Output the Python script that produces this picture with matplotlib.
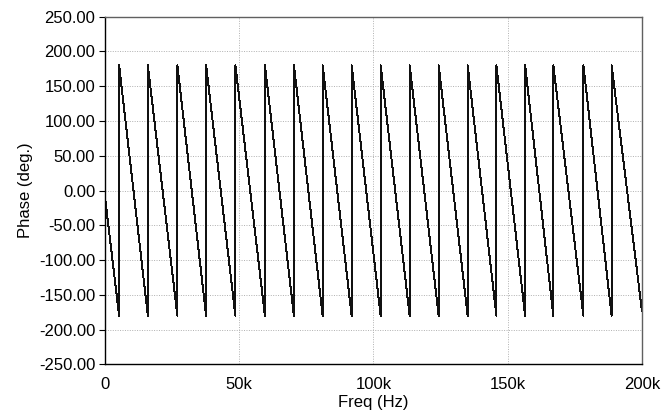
import matplotlib
matplotlib.use('Agg')

import matplotlib.pyplot as plt

# phase wraps from -180 back to +180 at these frequencies (Hz)
wrap_freq_hz = [5300, 16000, 27000, 37700, 48600, 59600, 70400, 81100, 91900,
                102700, 113500, 124300, 135100, 145800, 156500, 167000, 178200, 188700]
start_phase = -8.0      # phase at 0 Hz
end_freq_hz = 200000
end_phase = -173.0      # phase at 200 kHz

x_ticks = [0, 50000, 100000, 150000, 200000]
x_labels = ['0', '50k', '100k', '150k', '200k']
y_ticks = [-250, -200, -150, -100, -50, 0, 50, 100, 150, 200, 250]

freq = [0]
phase = [start_phase]
for f in wrap_freq_hz:
    freq += [f, f]
    phase += [-180, 180]
freq.append(end_freq_hz)
phase.append(end_phase)

plt.rcParams['font.family'] = ['Liberation Sans', 'DejaVu Sans']

fig = plt.figure(figsize=(6.68, 4.17), dpi=100)
ax = fig.add_axes([0.157, 0.126, 0.804, 0.834])

ax.plot(freq, phase, color='#111111', linewidth=0.7, antialiased=False)

ax.set_xlim(0, 200000)
ax.set_ylim(-250, 250)
ax.set_xticks(x_ticks)
ax.set_xticklabels(x_labels)
ax.set_yticks(y_ticks)
ax.set_yticklabels([f"{v:.2f}" for v in y_ticks])
ax.tick_params(axis='both', labelsize=12, colors='black')
ax.tick_params(axis='y', direction='out', length=4, width=0.8, pad=3)
ax.tick_params(axis='x', length=0, pad=9)

ax.grid(True, color='#b0b0b0', linestyle=(0, (1, 1.5)), linewidth=0.7)
for side in ['left', 'bottom']:
    ax.spines[side].set_color('black')
    ax.spines[side].set_linewidth(1.0)
for side in ['right', 'top']:
    ax.spines[side].set_color('#606060')
    ax.spines[side].set_linewidth(1.0)

ax.set_xlabel('Freq (Hz)', fontsize=12, labelpad=2)
ax.set_ylabel('Phase (deg.)', fontsize=12, labelpad=4)

plt.savefig('out.png', dpi=100)
